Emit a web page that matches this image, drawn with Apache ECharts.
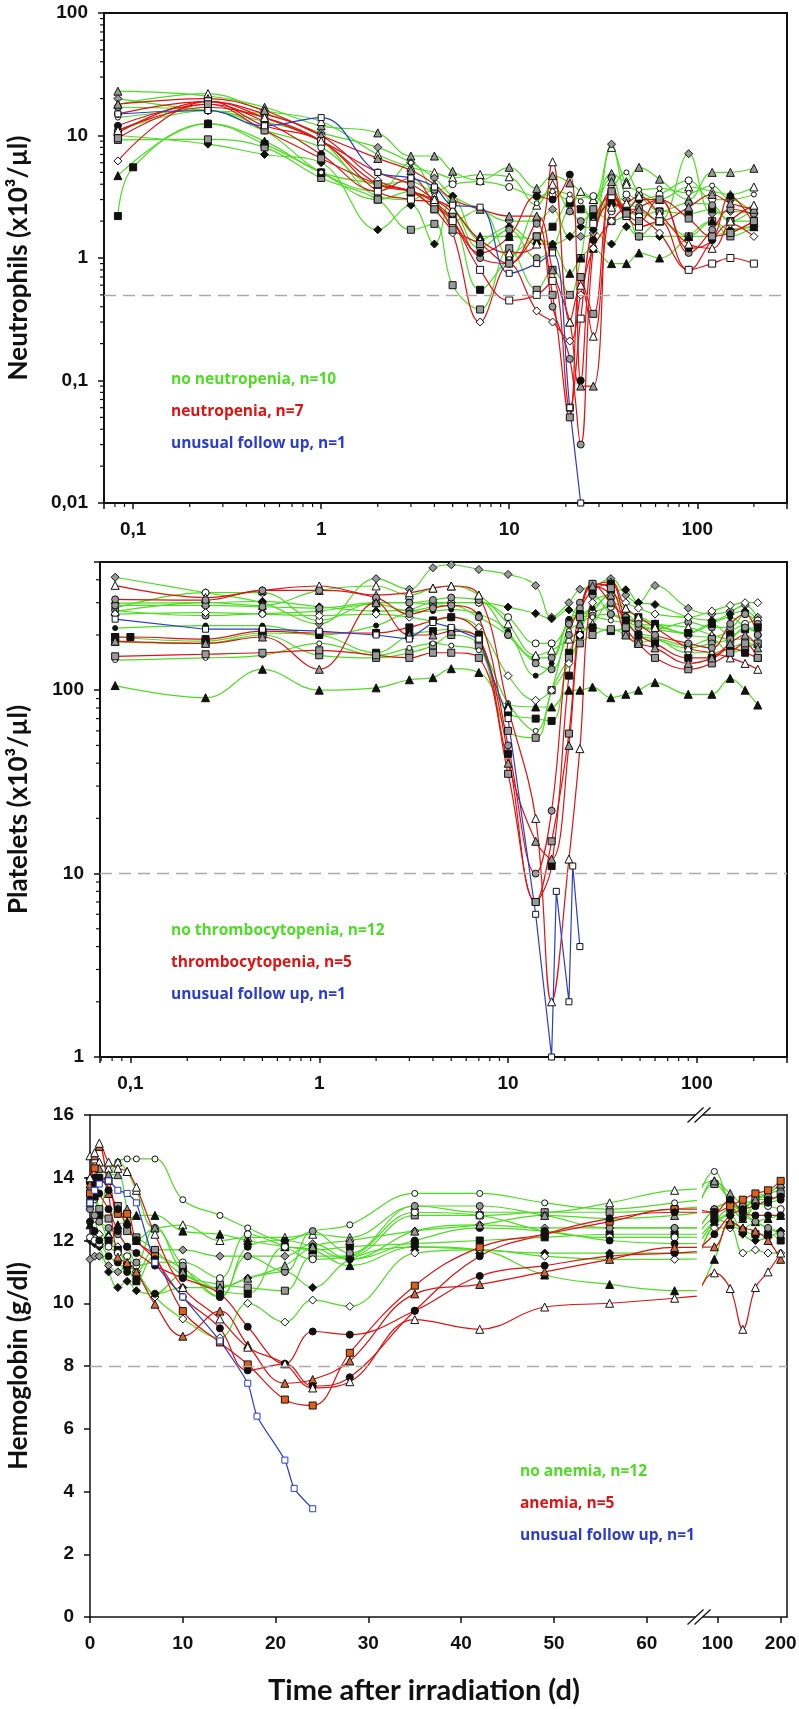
<!DOCTYPE html>
<html>
<head>
<meta charset="utf-8">
<script src="https://cdn.jsdelivr.net/npm/echarts@6/dist/echarts.min.js"></script>
<style>
  html, body { margin: 0; background: #fff; }
  #chart { width: 799px; height: 1709px; }
</style>
</head>
<body>
<div id="chart"></div>
<script>
const n = null;

// ---- Neutrophils (x10^3/µl), days after irradiation ----
const neuDays = [0.083, 0.1, 0.25, 0.5, 1, 2, 3, 4, 5, 7, 10, 14, 17, 21, 24, 28, 35, 42, 49, 63, 90, 120, 150, 200];
const neuGreen = [
  [23, n, 21, 17, 12, 10.5, 6.8, 6.8, 5.1, 4.3, 5.5, 3.7, 4.7, 4.1, n, 3.0, 4.9, 4.2, 5.5, 4.4, 3.0, 5.0, 5.0, 5.4],
  [18, n, 22, 16, 13, 7, 5.5, 5, 4.5, 4.8, 4.6, 2.7, 4.0, 2.5, 3.5, 3.0, 8.0, 4.0, 3.5, 3.0, 3.8, 3.5, 3.3, 3.8],
  [20, n, 16, 15, 10.5, 8, 6, 4.5, 3.2, 2.5, 2.0, 2.0, 2.5, 1.5, 1.5, 1.6, 8.5, 3.0, 2.5, 2.0, 7.1, 2.3, 2.4, 2.3],
  [10, n, 8.5, 7, 6, 1.7, 2.7, 1.3, 3.2, 1.4, 1.8, 1.3, 1.3, 1.5, 1.8, 1.7, 1.3, 1.8, 1.5, 1.5, 1.5, 1.5, 1.7, 1.8],
  [2.2, 5.5, 12.5, 8.5, 5, 3, 3.5, 2.5, 2.2, 0.55, 1.0, 1.5, 1.8, 2.8, 2.5, 2.2, 2.8, 2.5, 2.2, 2.4, 2.3, 2.5, 2.0, 2.0],
  [11, n, 16, 11, 8, 4, 4.2, 3.5, 4.0, 4.2, 3.8, 3.2, 3.3, 3.0, n, 3.2, 2.4, 3.3, 3.0, 3.3, 4.3, 3.0, 3.0, 2.3],
  [17, n, 16, 13, 9, 3.2, 3.0, 3.6, 2.7, 1.2, 1.7, 1.0, 1.2, 2.4, 2.0, 2.5, 4.5, 2.4, 3.1, 2.4, 2.8, 2.7, 2.0, 2.5],
  [9.2, n, 9.3, 8, 4.5, 3.0, 1.7, 1.9, 0.6, 0.38, 1.2, 0.55, 0.8, 0.5, 1.0, 2.5, 2.0, 2.2, 1.5, 2.0, 1.5, 2.0, 1.5, 1.8],
  [4.7, n, 12.5, 9, 5, 4, 3.5, 3.0, 2.5, 1.5, 1.5, 1.4, 1.3, 0.75, 1.0, 1.2, 0.9, 0.9, 1.1, 1.0, 1.5, 2.0, 1.7, 1.8],
  [14, n, 16, 11, 5, 3.5, 6.0, 3.2, 2.0, 2.5, 1.0, 2.8, 3.5, 3.3, 2.9, 2.0, 3.6, 5.0, 3.6, 3.7, 3.4, 3.9, 3.0, 3.3]
];
const neuRed = [
  [15, n, 19, 14, 9, 5, 4, 3.0, 2.3, 1.0, 0.9, 1.9, 0.4, 0.15, 0.03, 1.2, 3.5, 2.2, 2.6, 3.0, 1.1, 1.7, 2.5, 2.3],
  [6.2, n, 19, 15, 10, 4.3, 3.5, 2.8, 1.6, 0.3, 0.9, 0.37, 0.3, 0.21, 0.5, 1.2, 2.0, 2.5, 2.2, 1.6, 0.8, 1.4, 1.9, 1.5],
  [18, n, 20, 16, 10, 6.5, 5.2, 4.0, 3.0, 2.5, 2.2, 2.2, 0.8, 0.3, 0.09, 0.09, 4.2, 2.5, 2.5, 2.0, 2.6, 3.3, 2.8, 2.5],
  [12, n, 18, 13, 7, 3.5, 4.5, 2.8, 2.0, 1.1, 1.5, 3.2, 3.0, 4.8, 0.1, 1.4, 2.8, 2.5, 3.0, 3.0, 1.2, 1.4, 3.2, 1.9],
  [10.5, n, 19, 12, 9, 3.5, 3.0, 2.8, 2.0, 0.8, 0.45, 0.5, 0.65, 0.06, 0.32, 1.9, 3.2, 2.2, 1.8, 2.0, 0.8, 0.9, 1.0, 0.9],
  [11, n, 17, 14, 9, 4, 3.5, 3.0, 2.5, 1.4, 1.1, 1.3, 6.1, 0.3, 0.6, 0.23, 2.6, 2.8, 3.2, 2.3, 1.3, 1.2, 2.0, 2.7],
  [9.5, n, 18, 11, 6.5, 4, 3.5, 2.5, 1.7, 1.3, 0.9, 1.5, 0.5, 0.05, 0.7, 0.35, 3.5, 2.3, 2.0, 3.0, 2.1, 1.5, 1.6, 2.0]
];
const neuBlue = [15, n, 16, 12, 14, 5, 4.5, 3.8, 2.7, 2.6, 0.75, 0.9, 1.1, 0.06, 0.01];

// ---- Platelets (x10^3/µl) ----
const pltDays = [0.083, 0.1, 0.25, 0.5, 1, 2, 3, 4, 5, 7, 10, 14, 17, 21, 24, 28, 35, 42, 49, 60, 90, 120, 150, 180, 210];
const pltGreen = [
  [413, n, 340, 300, 230, 406, 355, 465, 483, 455, 428, 372, 250, 300, 355, 364, 406, 330, 300, 372, 280, 260, 270, 290, 250],
  [298, n, 300, 305, 285, 270, 275, 300, 300, 300, 284, 262, 245, 274, 260, 270, 343, 353, 300, 293, 250, 240, 260, 270, 240],
  [280, n, 340, 340, 240, 300, 300, 295, 300, 300, 250, 180, 180, 230, 260, 265, 285, 250, 230, 225, 200, 195, 210, 230, 240],
  [272, n, 255, 262, 270, 295, 270, 285, 290, 250, 200, 150, 150, 240, 250, 255, 260, 240, 220, 215, 235, 220, 220, 260, 230],
  [268, n, 300, 290, 350, 370, 330, 360, 370, 330, 230, 155, 165, 190, 210, 230, 300, 280, 250, 230, 220, 200, 190, 190, 180],
  [218, n, 225, 225, 200, 225, 265, 270, 275, 260, 210, 120, 140, 245, 260, 280, 330, 270, 230, 215, 205, 230, 250, 220, 210],
  [195, n, 185, 205, 200, 160, 200, 210, 215, 190, 75, 70, 68, 160, 200, 220, 210, 220, 250, 230, 205, 230, 200, 215, 220],
  [183, n, 180, 200, 155, 150, 160, 175, 200, 175, 60, 55, 100, 150, 180, 200, 215, 200, 180, 190, 175, 190, 160, 170, 180],
  [146, n, 150, 155, 180, 155, 170, 180, 175, 165, 85, 60, 100, 210, 230, 250, 240, 230, 205, 195, 160, 160, 170, 180, 175],
  [106, n, 91, 130, 100, 103, 114, 117, 131, 125, 83, 81, 81, 100, 100, 104, 91, 95, 100, 110, 95, 95, 116, 100, 83],
  [260, n, 265, 260, 255, 260, 250, 240, 250, 220, 120, 88, 100, 140, 200, 300, 330, 300, 280, 260, 250, 270, 290, 300, 300],
  [290, n, 290, 285, 280, 300, 300, 310, 320, 310, 200, 140, 130, 230, 300, 330, 260, 240, 200, 190, 170, 180, 190, 220, 200]
];
const pltRed = [
  [373, n, 320, 350, 370, 330, 340, 360, 370, 330, 80, 20, 2, 12, 48, 350, 390, 280, 250, 220, 170, 160, 150, 140, 130],
  [313, n, 310, 350, 350, 320, 260, 280, 290, 250, 50, 10, 22, 200, 280, 380, 300, 250, 230, 200, 180, 170, 230, 260, 200],
  [195, 195, 190, 210, 205, 205, 220, 240, 250, 200, 45, 7, 11, 120, 260, 350, 380, 240, 200, 180, 150, 150, 170, 160, 150],
  [153, n, 157, 160, 165, 155, 150, 160, 160, 150, 35, 7, 15, 58, 250, 380, 360, 220, 180, 150, 130, 140, 160, 180, 150],
  [185, n, 180, 195, 130, 300, 200, 200, 210, 190, 40, 15, 12, 50, 230, 370, 330, 200, 180, 170, 140, 150, 180, 200, 170]
];
const pltBlueDays = [0.083, 0.25, 0.5, 1, 2, 3, 4, 5, 7, 10, 14, 17, 18, 21, 22, 24];
const pltBlue = [244, 215, 215, 210, 200, 190, 234, 220, 190, 70, 6, 1, 8, 2, 11, 4];

// ---- Hemoglobin (g/dl) ----
const hbDays = [0, 0.5, 1, 2, 3, 4, 5, 7, 10, 14, 17, 21, 24, 28, 35, 42, 49, 56, 63, 95, 120, 140, 160, 180, 200];
const hbGreen = [
  [13.6, 13.3, 13.0, 14.0, 14.5, 14.6, 14.6, 14.6, 13.3, 12.8, 12.4, 12.0, 12.3, 12.5, 13.5, 13.5, 13.2, 13.0, 13.2, 14.2, 13.2, 13.0, 13.4, 13.5, 13.6],
  [14.7, 14.6, 14.5, 14.3, 14.5, 14.2, 13.6, 12.4, 12.5, 12.0, 12.1, 12.1, 12.2, 12.1, 13.1, 12.9, 12.9, 13.2, 13.6, 13.9, 13.2, 12.7, 13.3, 13.5, 13.8],
  [12.5, 12.3, 12.0, 12.2, 12.5, 12.6, 12.8, 12.8, 12.3, 12.2, 12.0, 11.8, 11.7, 11.2, 11.8, 11.7, 10.9, 10.6, 10.4, 11.4, 12.6, 12.4, 12.6, 12.7, 12.8],
  [11.4, 11.5, 11.5, 11.2, 11.0, 11.2, 11.0, 11.7, 11.7, 11.5, 11.5, 11.5, 11.9, 11.4, 12.3, 12.5, 12.4, 12.4, 12.4, 13.0, 13.2, 12.9, 12.6, 12.4, 12.3],
  [12.0, 11.9, 11.8, 11.0, 10.5, 10.7, 10.4, 10.3, 10.5, 10.5, 10.8, 11.0, 10.5, 11.4, 11.8, 11.7, 11.6, 11.6, 11.6, 12.5, 12.8, 12.2, 12.0, 12.1, 12.3],
  [13.0, 12.7, 12.2, 12.1, 11.8, 11.2, 11.0, 10.2, 9.5, 8.9, 10.0, 9.4, 10.1, 9.9, 11.6, 11.7, 11.5, 11.4, 11.4, 12.4, 12.4, 11.6, 11.7, 11.6, 11.6],
  [13.5, 13.8, 13.0, 12.7, 13.1, 12.3, 12.1, 11.7, 10.9, 10.6, 10.5, 10.4, 11.5, 11.5, 12.8, 12.8, 12.9, 12.9, 13.0, 13.8, 13.3, 13.0, 13.3, 13.3, 13.5],
  [13.9, 13.4, 12.8, 12.0, 11.7, 11.2, 10.7, 11.5, 11.1, 10.4, 10.3, 11.8, 11.7, 11.8, 11.9, 12.0, 12.1, 12.2, 12.2, 12.7, 12.5, 12.3, 12.2, 12.2, 12.0],
  [12.1, 12.0, 11.9, 11.8, 11.6, 11.5, 11.2, 11.3, 11.3, 10.8, 12.2, 11.8, 11.4, 11.5, 12.9, 12.8, 12.3, 12.1, 12.1, 12.6, 12.9, 13.1, 13.2, 13.1, 13.0],
  [13.0, 12.8, 12.6, 12.4, 12.2, 11.8, 11.3, 12.4, 11.2, 10.2, 11.5, 11.0, 12.3, 11.6, 13.1, 13.1, 12.8, 12.4, 12.4, 13.0, 13.2, 12.8, 12.6, 12.4, 12.2],
  [12.6, 12.3, 12.0, 11.5, 11.3, 11.0, 10.9, 10.3, 10.9, 10.2, 11.8, 12.0, 11.8, 11.4, 12.0, 12.4, 12.3, 12.0, 11.9, 12.6, 13.0, 12.7, 13.1, 13.2, 13.3],
  [13.2, 14.0, 14.3, 14.1, 14.1, 13.0, 12.0, 12.4, 11.0, 10.5, 10.8, 11.2, 11.8, 12.0, 12.3, 12.5, 12.8, 12.7, 12.8, 13.9, 13.5, 13.2, 13.3, 13.5, 13.8]
];
const hbRed = [
  [13.5, 14.3, 14.0, 13.9, 12.85, 12.85, 12.0, 11.5, 9.75, 8.75, 8.05, 6.93, 6.74, 8.42, 10.56, 11.78, 12.2, 12.6, 13.0, 12.9, 13.1, 13.3, 13.5, 13.6, 13.9],
  [13.2, 14.0, 13.5, 13.0, 12.3, 11.8, 11.6, 11.2, 10.8, 10.3, 9.25, 8.07, 9.1, 9.0, 9.76, 10.87, 11.2, 11.5, 11.6, 12.2, 12.8, 13.0, 13.1, 13.3, 13.4],
  [13.8, 14.7, 15.0, 13.5, 11.47, 11.3, 11.0, 9.97, 8.95, 9.75, 8.67, 7.45, 7.57, 8.16, 10.3, 10.6, 11.0, 11.4, 11.78, 11.8, 12.6, 12.4, 12.3, 12.0, 11.4],
  [13.3, 13.8, 14.0, 13.6, 13.0, 12.5, 12.0, 11.4, 10.2, 9.2, 7.86, 8.07, 7.36, 7.64, 9.76, 11.5, 12.2, 12.7, 12.9, 12.9, 13.3, 12.9, 12.8, 12.8, 12.8],
  [14.0, 14.8, 15.1, 14.5, 14.3, 14.2, 13.7, 12.2, 10.5, 9.5, 8.6, 8.07, 7.3, 7.5, 9.48, 9.17, 9.88, 10.0, 10.16, 10.97, 10.47, 9.17, 10.5, 11.0, 11.6]
];
const hbBlueDays = [0, 0.5, 1, 2, 3, 4, 5, 7, 10, 14, 17, 18, 21, 22, 24];
const hbBlue = [13.2, 13.6, 13.8, 13.9, 13.6, 13.5, 13.2, 11.3, 10.2, 8.8, 7.45, 6.4, 5.0, 4.1, 3.45];

// marker shape : fill (: size)
const neuGreenMarks = ['triangle:#999:8', 'triangle:#fff:8', 'diamond:#999:8', 'diamond:#111:8', 'rect:#111', 'circle:#fff', 'circle:#999', 'rect:#999', 'triangle:#111:8', 'circle:#fff:5'];
const neuRedMarks = ['circle:#999', 'diamond:#fff:8', 'triangle:#999:8', 'circle:#111', 'rect:#fff', 'triangle:#fff:8', 'rect:#999'];
const pltGreenMarks = ['diamond:#999:8', 'diamond:#111:8', 'circle:#fff', 'circle:#999', 'triangle:#fff:8', 'circle:#111:5', 'rect:#111', 'rect:#999', 'circle:#fff:5', 'triangle:#111:8', 'diamond:#fff:8', 'circle:#999'];
const pltRedMarks = ['triangle:#fff:8', 'circle:#999', 'rect:#111', 'rect:#999', 'triangle:#999:8'];
const hbGreenMarks = ['circle:#fff:6', 'triangle:#fff:8', 'triangle:#111:8', 'diamond:#999:8', 'diamond:#111:8', 'diamond:#fff:8', 'rect:#999', 'rect:#111', 'circle:#fff', 'circle:#999', 'circle:#111', 'triangle:#999:8'];
const hbRedMarks = ['rect:#e0601a', 'circle:#111', 'triangle:#d0683a:8', 'circle:#111', 'triangle:#fff:8'];

const GREEN = '#4edc24', RED = '#e01212', BLUE = '#2a3ccf';
const AX = '#111';

// layout
const G1 = { left: 104, top: 13, width: 683, height: 490 };
const G2 = { left: 100, top: 562, width: 687, height: 495 };
const G3 = { left: 90, top: 1115, width: 605, height: 502 };
const G4 = { left: 703, top: 1115, width: 84, height: 502 };

const series = [];

function addPatient(days, vals, color, mark, xi, yi, opt) {
  opt = opt || {};
  const pts = days.map((d, i) => [d, vals[i]]).filter(p => p[1] != null && p[1] !== undefined);
  series.push({
    type: 'line', xAxisIndex: xi, yAxisIndex: yi, data: pts,
    smooth: opt.smooth == null ? 0.4 : opt.smooth, showSymbol: false, silent: true,
    lineStyle: { color: color, width: 1.2 }, itemStyle: { color: color }, z: 2
  });
  const m = mark.split(':');
  const mp = opt.range ? pts.filter(p => p[0] >= opt.range[0] && p[0] <= opt.range[1]) : pts;
  series.push({
    type: 'scatter', xAxisIndex: xi, yAxisIndex: yi, data: mp, silent: true,
    symbol: m[0], symbolSize: +(m[2] || 7),
    itemStyle: { color: m[1], borderColor: opt.edge || '#111', borderWidth: 1, opacity: 1 }, z: 3
  });
}

function refLine(xi, yi, y) {
  series.push({
    type: 'line', xAxisIndex: xi, yAxisIndex: yi, data: [], z: 1,
    markLine: {
      silent: true, symbol: ['none', 'none'], label: { show: false },
      lineStyle: { color: '#aaa', type: [12, 7], width: 1.3 },
      data: [{ yAxis: y }]
    }
  });
}

function minorVals(lo, hi) {
  const out = [];
  for (let e = Math.floor(Math.log10(lo)); e <= Math.ceil(Math.log10(hi)); e++) {
    for (let k = 2; k <= 9; k++) {
      const v = k * Math.pow(10, e);
      if (v > lo * 1.001 && v < hi * 0.999) out.push(v);
    }
  }
  return out;
}

function minorTicks(xi, yi, dir, vals, anchor) {
  series.push({
    type: 'custom', xAxisIndex: xi, yAxisIndex: yi, silent: true, z: 5,
    data: vals.map(v => dir === 'x' ? [v, anchor] : [anchor, v]),
    renderItem: function (params, api) {
      const p = api.coord([api.value(0), api.value(1)]);
      const shape = dir === 'x'
        ? { x1: p[0], y1: p[1], x2: p[0], y2: p[1] + 4 }
        : { x1: p[0] - 4, y1: p[1], x2: p[0], y2: p[1] };
      return { type: 'line', shape: shape, style: { stroke: AX, lineWidth: 1.2 } };
    }
  });
}

// panel 1
refLine(0, 0, 0.5);
neuGreen.forEach((v, i) => addPatient(neuDays, v, GREEN, neuGreenMarks[i], 0, 0));
neuRed.forEach((v, i) => addPatient(neuDays, v, RED, neuRedMarks[i], 0, 0));
addPatient(neuDays, neuBlue, BLUE, 'rect:#fff:6', 0, 0);
minorTicks(0, 0, 'x', minorVals(0.07, 300), 0.01);
minorTicks(0, 0, 'y', minorVals(0.01, 100), 0.07);

// panel 2
refLine(1, 1, 10);
pltGreen.forEach((v, i) => addPatient(pltDays, v, GREEN, pltGreenMarks[i], 1, 1));
pltRed.forEach((v, i) => addPatient(pltDays, v, RED, pltRedMarks[i], 1, 1));
addPatient(pltBlueDays, pltBlue, BLUE, 'rect:#fff:6', 1, 1, { smooth: 0 });
minorTicks(1, 1, 'x', minorVals(0.069, 300), 1);
minorTicks(1, 1, 'y', minorVals(1, 500), 0.069);

// panel 3, left (0-65 d) and right (after the break)
refLine(2, 2, 8);
refLine(4, 3, 8);
[[2, 2, [0, 65.2]], [4, 3, [77, 210]]].forEach(([xi, yi, rg]) => {
  hbGreen.forEach((v, i) => addPatient(hbDays, v, GREEN, hbGreenMarks[i], xi, yi, { range: rg }));
  hbRed.forEach((v, i) => addPatient(hbDays, v, RED, hbRedMarks[i], xi, yi, { range: rg }));
  addPatient(hbBlueDays, hbBlue, BLUE, 'rect:#fff:6', xi, yi, { range: rg, edge: BLUE, smooth: 0.2 });
});

function logLabel(v) {
  const e = Math.log10(v), r = Math.round(e);
  if (Math.abs(e - r) > 1e-6) return '';
  return r >= 0 ? String(Math.pow(10, r)) : '0,' + '0'.repeat(-r - 1) + '1';
}

const labelFont = { fontFamily: 'Liberation Sans', fontWeight: 'bold', fontSize: 19, color: AX };

function logAxis(grid, min, max, isX) {
  return {
    type: 'log', logBase: 10, gridIndex: grid, min: min, max: max,
    axisLine: { show: true, onZero: false, lineStyle: { color: AX, width: 2 } },
    axisTick: { show: true, inside: false, length: 6, lineStyle: { color: AX, width: 1.5 } },
    axisLabel: Object.assign({ formatter: logLabel, margin: isX ? 17 : 16 }, labelFont),
    splitLine: { show: false }, minorTick: { show: false }
  };
}

function bareAxis(grid, min, max, pos) {
  return {
    type: 'value', gridIndex: grid, min: min, max: max, position: pos,
    axisLine: { show: true, onZero: false, lineStyle: { color: AX, width: 1.5 } },
    axisTick: { show: false }, axisLabel: { show: false }, splitLine: { show: false }
  };
}

function legendTexts(x, y0, gap, lines) {
  return lines.map((l, i) => ({
    type: 'text', x: x, y: y0 + i * gap, z: 10,
    style: { text: l[0], textVerticalAlign: 'middle', fill: l[1], fontSize: 15.5, fontWeight: 'bold', fontFamily: 'Open Sans' }
  }));
}

function breakMark(cx, y) {
  return [-3.5, 3.5].map(off => ({
    type: 'line', z: 10,
    shape: { x1: cx + off - 8, y1: y + 7.5, x2: cx + off + 8, y2: y - 7.5 },
    style: { stroke: AX, lineWidth: 1.3 }
  }));
}

function yTitle(text, g) {
  return {
    type: 'text', x: 19, y: g.top + g.height / 2, rotation: Math.PI / 2, z: 10,
    style: { text: text, textAlign: 'center', textVerticalAlign: 'middle', fill: AX, fontSize: 26, fontWeight: 'bold', fontFamily: 'Lato' }
  };
}

const option = {
  animation: false,
  backgroundColor: '#fff',
  grid: [
    Object.assign({ show: true, borderColor: AX, borderWidth: 2, outerBoundsMode: 'none' }, G1),
    Object.assign({ show: true, borderColor: AX, borderWidth: 2, outerBoundsMode: 'none' }, G2),
    Object.assign({ outerBoundsMode: 'none' }, G3),
    Object.assign({ outerBoundsMode: 'none' }, G4)
  ],
  xAxis: [
    logAxis(0, 0.07, 300, true),
    logAxis(1, 0.069, 300, true),
    {
      type: 'value', gridIndex: 2, min: 0, max: 65.2, interval: 10,
      axisLine: { show: true, onZero: false, lineStyle: { color: AX, width: 1.5 } },
      axisTick: { show: true, length: 6, lineStyle: { color: AX, width: 1.5 }, customValues: [0, 10, 20, 30, 40, 50, 60] },
      axisLabel: Object.assign({ margin: 17, customValues: [0, 10, 20, 30, 40, 50, 60], formatter: v => (v % 10 === 0 ? String(v) : '') }, labelFont),
      splitLine: { show: false }
    },
    bareAxis(2, 0, 65.2, 'top'),
    {
      type: 'value', gridIndex: 3, min: 77, max: 210,
      axisLine: { show: true, onZero: false, lineStyle: { color: AX, width: 1.5 } },
      axisTick: { show: true, length: 6, lineStyle: { color: AX, width: 1.5 }, customValues: [100, 200] },
      axisLabel: Object.assign({ margin: 17, customValues: [100, 200], formatter: v => (v === 100 || v === 200 ? String(v) : '') }, labelFont),
      splitLine: { show: false }
    },
    bareAxis(3, 77, 210, 'top')
  ],
  yAxis: [
    logAxis(0, 0.01, 100, false),
    logAxis(1, 1, 500, false),
    {
      type: 'value', gridIndex: 2, min: 0, max: 16, interval: 2,
      axisLine: { show: true, onZero: false, lineStyle: { color: AX, width: 1.5 } },
      axisTick: { show: true, length: 6, lineStyle: { color: AX, width: 1.5 } },
      axisLabel: Object.assign({ margin: 16 }, labelFont),
      splitLine: { show: false }
    },
    Object.assign(bareAxis(3, 0, 16, 'right'), { interval: 2 })
  ],
  series: series,
  graphic: [].concat(
    legendTexts(G1.left + 67, 380, 32, [['no neutropenia, n=10', GREEN], ['neutropenia, n=7', RED], ['unusual follow up, n=1', BLUE]]),
    legendTexts(G2.left + 71, 931, 32, [['no thrombocytopenia, n=12', GREEN], ['thrombocytopenia, n=5', RED], ['unusual follow up, n=1', BLUE]]),
    legendTexts(520, 1472, 32, [['no anemia, n=12', GREEN], ['anemia, n=5', RED], ['unusual follow up, n=1', BLUE]]),
    breakMark(699, G3.top + G3.height),
    breakMark(699, G3.top),
    [
      yTitle('Neutrophils (x10³/µl)', G1),
      yTitle('Platelets (x10³/µl)', G2),
      yTitle('Hemoglobin (g/dl)', G3),
      {
        type: 'text', x: 424, y: 1691, z: 10,
        style: { text: 'Time after irradiation (d)', textAlign: 'center', textVerticalAlign: 'middle', fill: AX, fontSize: 29, fontWeight: 'bold', fontFamily: 'Lato' }
      }
    ]
  )
};

const chart = echarts.init(document.getElementById('chart'), null, { renderer: 'canvas' });
chart.setOption(option);
</script>
</body>
</html>
